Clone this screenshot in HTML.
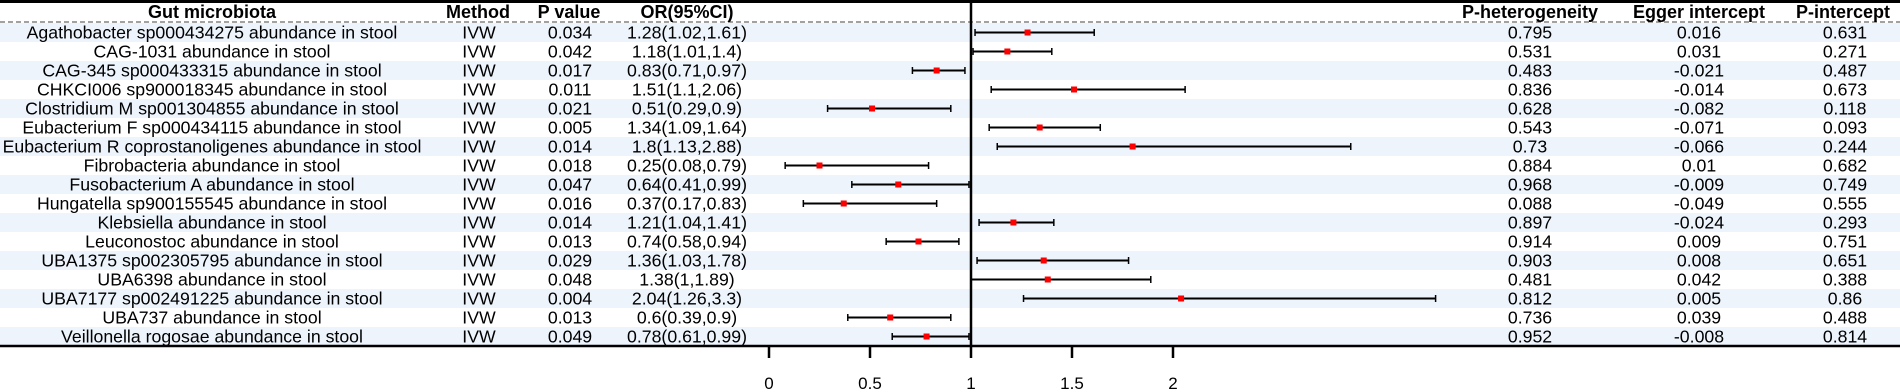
<!DOCTYPE html>
<html><head><meta charset="utf-8"><style>
html,body{margin:0;padding:0;background:#fff;}
svg{display:block;font-family:"Liberation Sans",Arial,sans-serif;}
</style></head><body>
<svg width="1900" height="392" viewBox="0 0 1900 392" xmlns="http://www.w3.org/2000/svg">
<g id="bg"></g>
<line x1="0" y1="1.5" x2="1900" y2="1.5" stroke="#000" stroke-width="3"/>
<line x1="0" y1="22" x2="1900" y2="22" stroke="#444" stroke-width="1" stroke-dasharray="5,3"/>
<g font-weight="bold" font-size="18" text-anchor="middle" fill="#000">
<text x="212" y="18">Gut microbiota</text>
<text x="478" y="18">Method</text>
<text x="569" y="18">P value</text>
<text x="687" y="18">OR(95%CI)</text>
<text x="1530" y="18">P-heterogeneity</text>
<text x="1699" y="18">Egger intercept</text>
<text x="1843" y="18">P-intercept</text>
</g>
<g id="rows" font-size="17.7" text-anchor="middle" fill="#000"></g>
<line x1="971" y1="0" x2="971" y2="358" stroke="#000" stroke-width="2.5"/>
<line x1="0" y1="346" x2="1900" y2="346" stroke="#000" stroke-width="2.5"/>
<g stroke="#000" stroke-width="2.5">
<line x1="769" y1="346" x2="769" y2="358"/><line x1="870" y1="346" x2="870" y2="358"/>
<line x1="1072" y1="346" x2="1072" y2="358"/><line x1="1173" y1="346" x2="1173" y2="358"/>
</g>
<g font-size="17" text-anchor="middle">
<text x="769" y="389">0</text><text x="870" y="389">0.5</text><text x="971" y="389">1</text><text x="1072" y="389">1.5</text><text x="1173" y="389">2</text>
</g>
<script>
const d=[
["Agathobacter sp000434275 abundance in stool","0.034",1.28,1.02,1.61,"0.795","0.016","0.631"],
["CAG-1031 abundance in stool","0.042",1.18,1.01,1.4,"0.531","0.031","0.271"],
["CAG-345 sp000433315 abundance in stool","0.017",0.83,0.71,0.97,"0.483","-0.021","0.487"],
["CHKCI006 sp900018345 abundance in stool","0.011",1.51,1.1,2.06,"0.836","-0.014","0.673"],
["Clostridium M sp001304855 abundance in stool","0.021",0.51,0.29,0.9,"0.628","-0.082","0.118"],
["Eubacterium F sp000434115 abundance in stool","0.005",1.34,1.09,1.64,"0.543","-0.071","0.093"],
["Eubacterium R coprostanoligenes abundance in stool","0.014",1.8,1.13,2.88,"0.73","-0.066","0.244"],
["Fibrobacteria abundance in stool","0.018",0.25,0.08,0.79,"0.884","0.01","0.682"],
["Fusobacterium A abundance in stool","0.047",0.64,0.41,0.99,"0.968","-0.009","0.749"],
["Hungatella sp900155545 abundance in stool","0.016",0.37,0.17,0.83,"0.088","-0.049","0.555"],
["Klebsiella abundance in stool","0.014",1.21,1.04,1.41,"0.897","-0.024","0.293"],
["Leuconostoc abundance in stool","0.013",0.74,0.58,0.94,"0.914","0.009","0.751"],
["UBA1375 sp002305795 abundance in stool","0.029",1.36,1.03,1.78,"0.903","0.008","0.651"],
["UBA6398 abundance in stool","0.048",1.38,1,1.89,"0.481","0.042","0.388"],
["UBA7177 sp002491225 abundance in stool","0.004",2.04,1.26,3.3,"0.812","0.005","0.86"],
["UBA737 abundance in stool","0.013",0.6,0.39,0.9,"0.736","0.039","0.488"],
["Veillonella rogosae abundance in stool","0.049",0.78,0.61,0.99,"0.952","-0.008","0.814"]];
const ns="http://www.w3.org/2000/svg",bg=document.getElementById('bg'),g=document.getElementById('rows');
const X=v=>769+202*v;
function el(p,t,a,txt){const e=document.createElementNS(ns,t);for(const k in a)e.setAttribute(k,a[k]);if(txt!==undefined)e.textContent=txt;p.appendChild(e);return e;}
d.forEach((r,i)=>{const y0=23+i*19,c=y0+9.5;
 if(i%2==0)el(bg,'rect',{x:0,y:y0,width:1900,height:19,fill:'#edf4fc'});
 const ty=c+6;
 el(g,'text',{x:212,y:ty},r[0]);el(g,'text',{x:479,y:ty},'IVW');el(g,'text',{x:570,y:ty},r[1]);
 el(g,'text',{x:687,y:ty},r[2]+'('+r[3]+','+r[4]+')');
 el(g,'text',{x:1530,y:ty},r[5]);el(g,'text',{x:1699,y:ty},r[6]);el(g,'text',{x:1845,y:ty},r[7]);
 const a=X(r[3]),b=X(r[4]);
 el(g,'line',{x1:a,y1:c,x2:b,y2:c,stroke:'#000','stroke-width':2});
 el(g,'line',{x1:a,y1:c-3.5,x2:a,y2:c+3.5,stroke:'#000','stroke-width':1.5});
 el(g,'line',{x1:b,y1:c-3.5,x2:b,y2:c+3.5,stroke:'#000','stroke-width':1.5});
 el(g,'rect',{x:X(r[2])-3,y:c-3,width:6,height:6,fill:'#ff0000'});
});
</script>
</svg>
</body></html>
